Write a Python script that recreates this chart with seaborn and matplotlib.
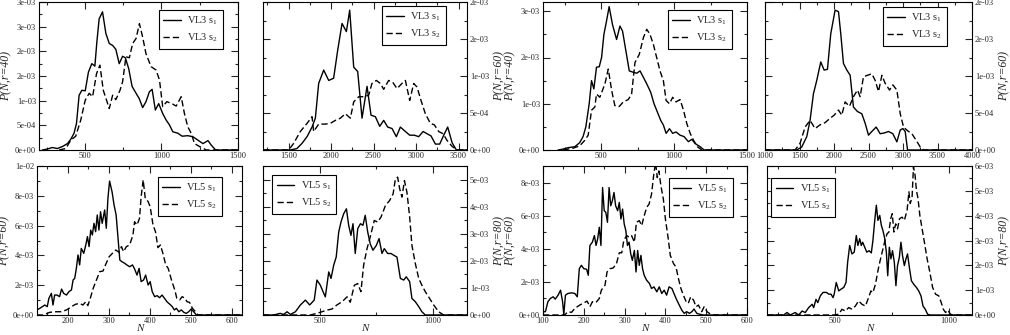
import numpy as np
import pandas as pd
import matplotlib
matplotlib.use('Agg')
import matplotlib.pyplot as plt
import seaborn as sb
from matplotlib.ticker import MultipleLocator

# ---------------- data (y values in units of 1e-3) ----------------
# top row: VL3, bottom row: VL5
p1_s1_x = [222, 255, 287, 320, 353, 386, 408, 429, 445, 462, 480, 502, 523, 545, 565, 578, 593, 615, 637, 659, 681, 702, 724, 746, 764, 786, 808, 834, 855, 877, 899, 921, 939, 960, 982, 1008, 1030, 1052, 1074, 1107, 1135, 1172, 1205, 1238, 1271, 1304, 1325, 1354, 1500]
p1_s1_y = [0, 0.02, 0.05, 0.03, 0.07, 0.13, 0.22, 0.34, 0.54, 1.11, 1.21, 1.2, 1.58, 1.75, 1.7, 2.19, 2.66, 2.8, 2.36, 2.16, 2.12, 2.04, 1.75, 1.9, 1.87, 1.65, 1.29, 1.15, 1.04, 0.86, 0.98, 1.18, 1.23, 0.81, 0.94, 0.74, 0.61, 0.51, 0.37, 0.34, 0.28, 0.29, 0.27, 0.2, 0.13, 0.19, 0.1, 0, 0]
p1_s2_x = [331, 375, 408, 440, 473, 502, 528, 550, 576, 598, 620, 659, 681, 702, 729, 746, 768, 790, 812, 834, 856, 877, 899, 932, 965, 987, 1008, 1035, 1074, 1096, 1129, 1150, 1172, 1194, 1216, 1249, 1293, 1500]
p1_s2_y = [0, 0.03, 0.2, 0.28, 0.61, 1.01, 1.15, 1.08, 1.55, 1.72, 1.21, 0.84, 1.11, 1.02, 1.21, 1.38, 1.89, 1.87, 2.16, 2.26, 2.56, 2.29, 1.95, 1.69, 1.62, 1.42, 0.88, 0.98, 0.93, 0.89, 1.08, 0.74, 0.47, 0.34, 0.13, 0.07, 0, 0]

p2_s1_x = [1200, 1522, 1600, 1659, 1718, 1777, 1816, 1855, 1914, 1973, 2031, 2079, 2130, 2181, 2220, 2267, 2314, 2365, 2424, 2471, 2522, 2573, 2620, 2667, 2718, 2769, 2816, 2875, 2926, 2981, 3032, 3083, 3130, 3177, 3228, 3279, 3326, 3373, 3424, 3475, 3600]
p2_s1_y = [0, 0, 0.02, 0.09, 0.18, 0.31, 0.43, 0.9, 1.08, 0.94, 0.97, 1.35, 1.71, 1.6, 1.89, 1.12, 1.06, 0.43, 0.86, 0.47, 0.45, 0.32, 0.4, 0.31, 0.29, 0.18, 0.31, 0.25, 0.2, 0.2, 0.18, 0.25, 0.22, 0.19, 0.08, 0.08, 0.2, 0.31, 0.1, 0, 0]
p2_s2_x = [1200, 1502, 1561, 1639, 1718, 1777, 1796, 1855, 1933, 1992, 2051, 2110, 2169, 2228, 2267, 2326, 2384, 2443, 2482, 2533, 2580, 2620, 2678, 2729, 2777, 2835, 2875, 2926, 2973, 3012, 3059, 3110, 3169, 3216, 3267, 3318, 3365, 3424, 3483, 3600]
p2_s2_y = [0, 0, 0.09, 0.25, 0.36, 0.45, 0.25, 0.35, 0.35, 0.36, 0.4, 0.43, 0.49, 0.43, 0.65, 0.72, 0.72, 0.74, 0.9, 0.94, 0.9, 0.82, 0.94, 0.91, 0.83, 0.9, 0.94, 0.67, 0.9, 0.85, 0.67, 0.49, 0.36, 0.34, 0.25, 0.22, 0.13, 0.05, 0, 0]

p3_s1_x = [203, 238, 272, 318, 352, 375, 394, 417, 433, 449, 467, 486, 502, 518, 536, 554, 577, 605, 628, 646, 669, 692, 720, 743, 766, 789, 812, 839, 862, 885, 908, 926, 945, 968, 990, 1013, 1041, 1068, 1098, 1121, 1144, 1179, 1206, 1500]
p3_s1_y = [0, 0.02, 0.05, 0.07, 0.16, 0.29, 0.5, 1.0, 1.5, 1.32, 1.79, 1.8, 2.0, 2.5, 2.79, 3.1, 2.71, 2.39, 2.68, 2.57, 2.14, 1.71, 1.68, 1.66, 1.71, 1.57, 1.43, 1.25, 1.0, 0.82, 0.64, 0.54, 0.36, 0.46, 0.36, 0.39, 0.32, 0.29, 0.18, 0.23, 0.14, 0.07, 0, 0]
p3_s2_x = [238, 307, 352, 387, 410, 433, 456, 467, 490, 525, 548, 571, 593, 623, 651, 685, 708, 731, 761, 789, 812, 834, 857, 880, 903, 926, 945, 968, 990, 1013, 1041, 1064, 1087, 1110, 1133, 1160, 1190, 1500]
p3_s2_y = [0, 0.04, 0.09, 0.21, 0.32, 0.86, 0.93, 1.21, 1.14, 1.43, 1.75, 1.29, 0.96, 0.94, 1.04, 1.09, 1.21, 1.89, 2.07, 2.43, 2.61, 2.5, 2.29, 2.0, 1.71, 1.5, 1.07, 1.0, 1.14, 1.04, 1.09, 0.86, 0.57, 0.36, 0.21, 0.07, 0, 0]

p4_s1_x = [1000, 1460, 1532, 1605, 1653, 1702, 1750, 1808, 1857, 1905, 1953, 2016, 2065, 2098, 2137, 2186, 2234, 2282, 2340, 2403, 2452, 2500, 2548, 2611, 2669, 2728, 2790, 2853, 2911, 2960, 2998, 3032, 3066, 4000]
p4_s1_y = [0, 0, 0.04, 0.18, 0.4, 0.76, 0.94, 1.19, 1.08, 1.09, 1.57, 1.89, 1.87, 1.57, 1.17, 1.08, 1.01, 0.58, 0.52, 0.49, 0.36, 0.2, 0.25, 0.31, 0.22, 0.23, 0.25, 0.22, 0.11, 0.27, 0.29, 0.25, 0, 0]
p4_s2_x = [1000, 1436, 1508, 1581, 1653, 1726, 1798, 1871, 1944, 2002, 2065, 2113, 2161, 2224, 2282, 2340, 2379, 2427, 2486, 2548, 2597, 2645, 2694, 2742, 2805, 2853, 2911, 2960, 3008, 3066, 3129, 3192, 3250, 3299, 4000]
p4_s2_y = [0, 0, 0.09, 0.31, 0.4, 0.29, 0.34, 0.37, 0.43, 0.47, 0.54, 0.47, 0.65, 0.59, 0.72, 0.81, 0.72, 0.99, 1.01, 1.03, 0.94, 0.79, 1.01, 0.9, 0.81, 0.88, 0.81, 0.49, 0.31, 0.26, 0.22, 0.13, 0.04, 0, 0]

p5_s1_x = [125, 132, 138, 144, 150, 154, 160, 164, 168, 174, 180, 185, 190, 197, 203, 209, 213, 217, 221, 225, 229, 233, 239, 244, 248, 252, 256, 260, 264, 268, 272, 276, 280, 284, 290, 294, 298, 302, 308, 313, 318, 322, 327, 332, 339, 344, 351, 358, 363, 369, 374, 379, 385, 390, 396, 401, 406, 412, 418, 424, 430, 436, 442, 449, 455, 460, 465, 471, 477, 483, 489, 495, 501, 507, 514, 625]
p5_s1_y = [0.34, 0.45, 0.56, 0.67, 0.56, 1.12, 1.45, 0.67, 1.34, 1.34, 1.23, 1.74, 1.45, 1.34, 1.57, 1.68, 2.35, 2.46, 3.13, 4.03, 3.36, 4.47, 4.14, 4.7, 5.26, 4.59, 5.7, 5.37, 6.15, 5.59, 6.71, 5.7, 6.93, 6.15, 7.05, 5.82, 7.83, 8.99, 8.28, 7.38, 6.71, 5.37, 3.69, 3.58, 3.47, 3.36, 3.24, 3.36, 3.09, 2.68, 3.13, 2.24, 2.35, 2.68, 2.01, 2.24, 1.57, 1.23, 1.3, 1.16, 1.34, 1.12, 0.89, 0.72, 0.56, 0.34, 0.45, 0.22, 0.34, 0.18, 0.11, 0.22, 0.4, 0.22, 0, 0]
p5_s2_x = [125, 140, 156, 172, 184, 197, 209, 219, 229, 237, 244, 249, 255, 262, 270, 278, 286, 292, 301, 309, 317, 325, 331, 336, 343, 351, 359, 363, 369, 375, 379, 384, 389, 396, 401, 408, 414, 420, 426, 432, 439, 445, 453, 461, 466, 473, 479, 486, 491, 497, 504, 510, 518, 625]
p5_s2_y = [0, 0, 0.18, 0.22, 0.22, 0.34, 0.56, 0.72, 0.78, 0.67, 0.89, 0.63, 1.12, 1.79, 2.35, 2.91, 2.95, 3.36, 3.91, 4.14, 4.36, 4.21, 4.59, 4.25, 4.59, 4.7, 5.37, 6.26, 6.04, 6.49, 7.94, 9.06, 7.83, 7.61, 7.27, 6.04, 5.59, 4.52, 4.7, 4.14, 3.36, 3.13, 2.35, 1.68, 1.12, 1.01, 1.23, 1.12, 0.89, 0.85, 0.45, 0.27, 0, 0]

p6_s1_x = [250, 297, 326, 341, 356, 371, 393, 415, 437, 456, 476, 488, 503, 515, 525, 540, 550, 562, 573, 584, 594, 606, 618, 628, 638, 647, 657, 668, 680, 691, 701, 712, 723, 735, 750, 762, 775, 785, 800, 815, 826, 841, 856, 871, 882, 897, 907, 922, 937, 951, 966, 1150]
p6_s1_y = [0, 0, 0.06, 0.02, 0.12, 0.02, 0.12, 0.37, 0.55, 0.37, 0.55, 1.29, 1.1, 0.86, 0.67, 1.59, 1.35, 1.84, 2.14, 3.06, 3.43, 3.74, 3.92, 3.31, 2.94, 3.37, 2.27, 3.19, 3.37, 3.31, 3.68, 3.06, 2.63, 2.39, 2.57, 2.82, 2.27, 2.45, 2.27, 2.27, 2.21, 2.14, 1.35, 1.29, 1.41, 1.23, 0.61, 0.49, 0.31, 0.12, 0, 0]
p6_s2_x = [250, 459, 488, 510, 532, 554, 576, 599, 621, 635, 653, 668, 682, 694, 709, 723, 741, 756, 771, 790, 809, 824, 834, 844, 853, 863, 874, 885, 897, 907, 922, 937, 951, 966, 985, 1003, 1025, 1047, 1150]
p6_s2_y = [0, 0, 0.06, 0.12, 0.18, 0.22, 0.37, 0.49, 0.67, 0.47, 1.1, 1.16, 0.86, 1.84, 2.45, 2.88, 3.49, 3.43, 3.62, 4.04, 4.23, 4.47, 5.02, 5.09, 4.66, 4.35, 4.96, 4.53, 3.62, 2.57, 1.9, 1.35, 1.1, 0.86, 0.61, 0.37, 0.12, 0, 0]

p7_s1_x = [100, 106, 112, 118, 125, 130, 137, 143, 148, 151, 155, 161, 170, 178, 184, 189, 194, 200, 207, 211, 215, 221, 226, 230, 234, 238, 242, 246, 250, 254, 258, 262, 266, 270, 274, 278, 283, 287, 291, 295, 299, 303, 307, 311, 315, 319, 324, 328, 332, 336, 340, 344, 348, 354, 361, 366, 372, 379, 385, 391, 397, 403, 409, 416, 421, 428, 434, 440, 446, 452, 459, 465, 470, 477, 485, 493, 600]
p7_s1_y = [0.2, 0.2, 0.8, 1.0, 1.1, 0.96, 1.2, 1.5, 0.8, 0.04, 1.2, 1.3, 1.34, 1.3, 1.1, 2.8, 3.0, 2.8, 2.76, 2.4, 4.2, 4.4, 4.8, 4.2, 4.6, 5.3, 4.2, 7.7, 6.3, 6.2, 5.6, 7.7, 6.6, 6.9, 7.4, 6.6, 6.3, 6.8, 5.8, 6.4, 5.5, 5.1, 4.2, 4.4, 3.7, 3.3, 3.9, 2.6, 3.9, 3.0, 3.6, 2.8, 2.4, 2.1, 1.9, 1.6, 1.7, 1.4, 1.7, 1.3, 1.5, 1.2, 1.7, 1.6, 1.3, 0.9, 0.6, 0.3, 0.1, 0.2, 0.1, 0.2, 0.36, 0.1, 0.04, 0, 0]
p7_s2_x = [100, 153, 161, 170, 178, 190, 198, 208, 215, 221, 230, 238, 243, 252, 257, 264, 272, 280, 287, 293, 298, 305, 311, 317, 324, 329, 336, 342, 347, 354, 360, 366, 372, 376, 380, 384, 389, 395, 400, 407, 412, 420, 426, 432, 438, 444, 451, 456, 462, 469, 475, 481, 489, 495, 502, 511, 518, 600]
p7_s2_y = [0, 0, 0.2, 0.16, 0.4, 0.6, 0.7, 0.84, 0.5, 0.8, 0.76, 1.0, 1.5, 1.8, 2.6, 2.8, 2.84, 3.1, 3.76, 3.76, 4.5, 4.8, 4.7, 4.8, 4.4, 5.6, 5.7, 5.4, 5.9, 6.5, 6.7, 7.3, 8.6, 9.2, 8.3, 8.7, 7.8, 7.0, 5.8, 4.6, 3.6, 3.1, 2.9, 2.2, 1.6, 1.2, 0.8, 0.7, 1.1, 0.9, 0.5, 0.6, 0.2, 0.5, 0.2, 0.04, 0, 0]

p8_s1_x = [200, 273, 288, 302, 324, 339, 354, 368, 383, 398, 405, 415, 423, 434, 446, 461, 471, 481, 490, 495, 504, 515, 525, 537, 547, 554, 563, 573, 583, 592, 599, 607, 614, 620, 629, 638, 648, 658, 665, 673, 680, 687, 695, 702, 709, 717, 724, 730, 737, 744, 751, 759, 766, 773, 781, 788, 795, 803, 810, 817, 826, 834, 844, 856, 866, 876, 885, 895, 905, 917, 1100]
p8_s1_y = [0, 0, 0.1, 0, 0.1, 0, 0.16, 0.1, 0.3, 0.43, 0.3, 0.63, 0.5, 0.77, 0.91, 0.91, 0.84, 0.84, 0.7, 0.84, 1.31, 0.97, 1.04, 1.11, 1.31, 2.12, 2.8, 2.46, 2.53, 3.2, 2.8, 3.07, 2.8, 2.93, 2.73, 2.53, 2.59, 2.5, 3.0, 3.81, 4.42, 3.81, 4.01, 3.61, 3.4, 3.07, 2.53, 1.58, 2.73, 2.26, 2.59, 2.12, 1.18, 1.99, 2.32, 2.93, 2.39, 1.99, 2.26, 2.46, 1.85, 1.38, 1.24, 1.11, 0.97, 0.77, 0.36, 0.23, 0.03, 0, 0]
p8_s2_x = [200, 493, 515, 529, 544, 559, 573, 588, 602, 617, 632, 646, 656, 665, 676, 683, 690, 700, 709, 718, 727, 735, 743, 750, 757, 765, 773, 782, 793, 803, 815, 823, 829, 837, 843, 850, 856, 863, 871, 881, 891, 903, 915, 927, 940, 954, 965, 974, 984, 994, 1005, 1019, 1100]
p8_s2_y = [0, 0, 0.03, 0.23, 0.16, 0.3, 0.23, 0.36, 0.57, 0.43, 0.36, 0.7, 0.97, 0.9, 1.24, 1.58, 1.92, 2.32, 2.66, 3.0, 3.27, 3.34, 3.88, 4.08, 3.34, 3.67, 3.47, 3.88, 3.94, 3.81, 4.21, 4.96, 4.49, 4.76, 5.97, 5.63, 5.02, 4.69, 4.01, 3.47, 2.93, 2.26, 1.72, 1.11, 0.84, 0.77, 0.5, 0.23, 0.1, 0.2, 0.03, 0, 0]

# tick values / labels
p1_yticks = [0, 0.5e-3, 1e-3, 1.5e-3, 2e-3, 2.5e-3, 3e-3]
p1_ylabels = ['0e+00', '5e-04', '1e-03', '2e-03', '2e-03', '3e-03', '3e-03']
p2_yticks = [0, 0.5e-3, 1e-3, 1.5e-3, 2e-3]
p2_ylabels = ['0e+00', '5e-04', '1e-03', '2e-03', '2e-03']
p3_yticks = [0, 1e-3, 2e-3, 3e-3]
p3_ylabels = ['0e+00', '1e-03', '2e-03', '3e-03']
p5_yticks = [0, 2e-3, 4e-3, 6e-3, 8e-3, 1e-2]
p5_ylabels = ['0e+00', '2e-03', '4e-03', '6e-03', '8e-03', '1e-02']
p6_yticks = [0, 1e-3, 2e-3, 3e-3, 4e-3, 5e-3]
p6_ylabels = ['0e+00', '1e-03', '2e-03', '3e-03', '4e-03', '5e-03']
p7_yticks = [0, 2e-3, 4e-3, 6e-3, 8e-3]
p7_ylabels = ['0e+00', '2e-03', '4e-03', '6e-03', '8e-03']
p8_yticks = [0, 1e-3, 2e-3, 3e-3, 4e-3, 5e-3, 6e-3]
p8_ylabels = ['0e+00', '1e-03', '2e-03', '3e-03', '4e-03', '5e-03', '6e-03']

p1_xticks = [500, 1000, 1500]
p2_xticks = [1500, 2000, 2500, 3000, 3500]
p4_xticks = [1000, 1500, 2000, 2500, 3000, 3500, 4000]
p5_xticks = [200, 300, 400, 500, 600]
p6_xticks = [500, 1000]
p7_xticks = [100, 200, 300, 400, 500, 600]

top_labels = ['VL3 s$_1$', 'VL3 s$_2$']
bot_labels = ['VL5 s$_1$', 'VL5 s$_2$']

# ---------------- style ----------------
sb.set_style('ticks')
plt.rcParams['font.family'] = ['Liberation Serif', 'DejaVu Serif']
plt.rcParams['mathtext.fontset'] = 'custom'
plt.rcParams['mathtext.rm'] = 'Liberation Serif'
plt.rcParams['mathtext.it'] = 'Liberation Serif:italic'

fig = plt.figure(figsize=(10.1, 3.35), dpi=100)
W, H = 1010.0, 335.0

def box(x0, x1, y0, y1):
    # pixel box -> figure fraction
    return [x0 / W, 1 - y1 / H, (x1 - x0) / W, (y1 - y0) / H]

# one entry per panel: data, limits, ticks, label side, legend placement
panels = [
    dict(pos=box(39, 238, 2, 150), s1=(p1_s1_x, p1_s1_y), s2=(p1_s2_x, p1_s2_y), xlim=(200, 1500), ylim=(0, 3e-3),
         xt=p1_xticks, xmin=250, yt=p1_yticks, yl=p1_ylabels, ymin=2.5e-4, side='left', ylab='P(N,r=40)',
         leg=top_labels, loc='upper right', anchor=(0.925, 0.946), xlab=False),
    dict(pos=box(263, 467, 2, 150), s1=(p2_s1_x, p2_s1_y), s2=(p2_s2_x, p2_s2_y), xlim=(1200, 3600), ylim=(0, 2e-3),
         xt=p2_xticks, xmin=250, yt=p2_yticks, yl=p2_ylabels, ymin=2.5e-4, side='right', ylab='P(N,r=60)',
         leg=top_labels, loc='upper right', anchor=(0.897, 0.973), xlab=False),
    dict(pos=box(543, 747, 2, 150), s1=(p3_s1_x, p3_s1_y), s2=(p3_s2_x, p3_s2_y), xlim=(100, 1500), ylim=(0, 3.2e-3),
         xt=p1_xticks, xmin=250, yt=p3_yticks, yl=p3_ylabels, ymin=5e-4, side='left', ylab='P(N,r=40)',
         leg=top_labels, loc='upper right', anchor=(0.926, 0.946), xlab=False),
    dict(pos=box(765, 972, 2, 150), s1=(p4_s1_x, p4_s1_y), s2=(p4_s2_x, p4_s2_y), xlim=(1000, 4000), ylim=(0, 2e-3),
         xt=p4_xticks, xmin=250, yt=p2_yticks, yl=p2_ylabels, ymin=2.5e-4, side='right', ylab='P(N,r=60)',
         leg=top_labels, loc='upper right', anchor=(0.879, 0.966), xlab=False),
    dict(pos=box(37, 242, 166, 315), s1=(p5_s1_x, p5_s1_y), s2=(p5_s2_x, p5_s2_y), xlim=(125, 625), ylim=(0, 1e-2),
         xt=p5_xticks, xmin=50, yt=p5_yticks, yl=p5_ylabels, ymin=1e-3, side='left', ylab='P(N,r=60)',
         leg=bot_labels, loc='upper right', anchor=(0.902, 0.926), xlab=True),
    dict(pos=box(263, 467, 166, 315), s1=(p6_s1_x, p6_s1_y), s2=(p6_s2_x, p6_s2_y), xlim=(250, 1150), ylim=(0, 5.5e-3),
         xt=p6_xticks, xmin=250, yt=p6_yticks, yl=p6_ylabels, ymin=5e-4, side='right', ylab='P(N,r=80)',
         leg=bot_labels, loc='upper left', anchor=(0.044, 0.94), xlab=True),
    dict(pos=box(543, 747, 166, 315), s1=(p7_s1_x, p7_s1_y), s2=(p7_s2_x, p7_s2_y), xlim=(100, 600), ylim=(0, 9e-3),
         xt=p7_xticks, xmin=50, yt=p7_yticks, yl=p7_ylabels, ymin=1e-3, side='left', ylab='P(N,r=60)',
         leg=bot_labels, loc='upper right', anchor=(0.931, 0.919), xlab=True),
    dict(pos=box(767, 972, 166, 315), s1=(p8_s1_x, p8_s1_y), s2=(p8_s2_x, p8_s2_y), xlim=(200, 1100), ylim=(0, 6e-3),
         xt=p6_xticks, xmin=250, yt=p8_yticks, yl=p8_ylabels, ymin=5e-4, side='right', ylab='P(N,r=80)',
         leg=bot_labels, loc='upper left', anchor=(0.02, 0.919), xlab=True),
]

for p in panels:
    ax = fig.add_axes(p['pos'])
    x1, y1 = p['s1']
    x2, y2 = p['s2']
    sb.lineplot(x=x1, y=np.array(y1) * 1e-3, ax=ax, color='black', lw=1.0,
                estimator=None, sort=False, label=p['leg'][0])
    sb.lineplot(x=x2, y=np.array(y2) * 1e-3, ax=ax, color='black', lw=1.0, ls=(0, (4.5, 2.2)),
                estimator=None, sort=False, label=p['leg'][1])
    ax.set_xlim(*p['xlim'])
    ax.set_ylim(*p['ylim'])
    ax.set_xticks(p['xt'], [str(v) for v in p['xt']])
    ax.xaxis.set_minor_locator(MultipleLocator(p['xmin']))
    ax.set_yticks(p['yt'], p['yl'])
    ax.yaxis.set_minor_locator(MultipleLocator(p['ymin']))
    ax.tick_params(which='both', direction='in', top=True, bottom=True, left=True, right=True,
                   labelsize=6, width=0.8)
    ax.tick_params(axis='x', pad=1.5)
    ax.tick_params(axis='y', pad=2)
    ax.tick_params(which='major', length=5)
    ax.tick_params(which='minor', length=2.5)
    if p['side'] == 'right':
        ax.tick_params(labelleft=False, labelright=True)
        ax.yaxis.set_label_position('right')
    ax.set_ylabel(p['ylab'], fontsize=8.5, fontstyle='italic', labelpad=2, rotation=90)
    if p['xlab']:
        ax.set_xlabel('N', fontsize=8, fontstyle='italic', labelpad=-1)
    else:
        ax.set_xlabel('')
    for s in ax.spines.values():
        s.set_linewidth(0.8)
        s.set_color('black')
    leg = ax.legend(loc=p['loc'], bbox_to_anchor=p['anchor'], borderaxespad=0, fontsize=7.5,
                    frameon=True, fancybox=False, framealpha=1, edgecolor='black',
                    handlelength=1.7, handletextpad=0.6, labelspacing=0.45, borderpad=0.45)
    leg.get_frame().set_linewidth(0.8)

fig.savefig('out.png', dpi=100)
